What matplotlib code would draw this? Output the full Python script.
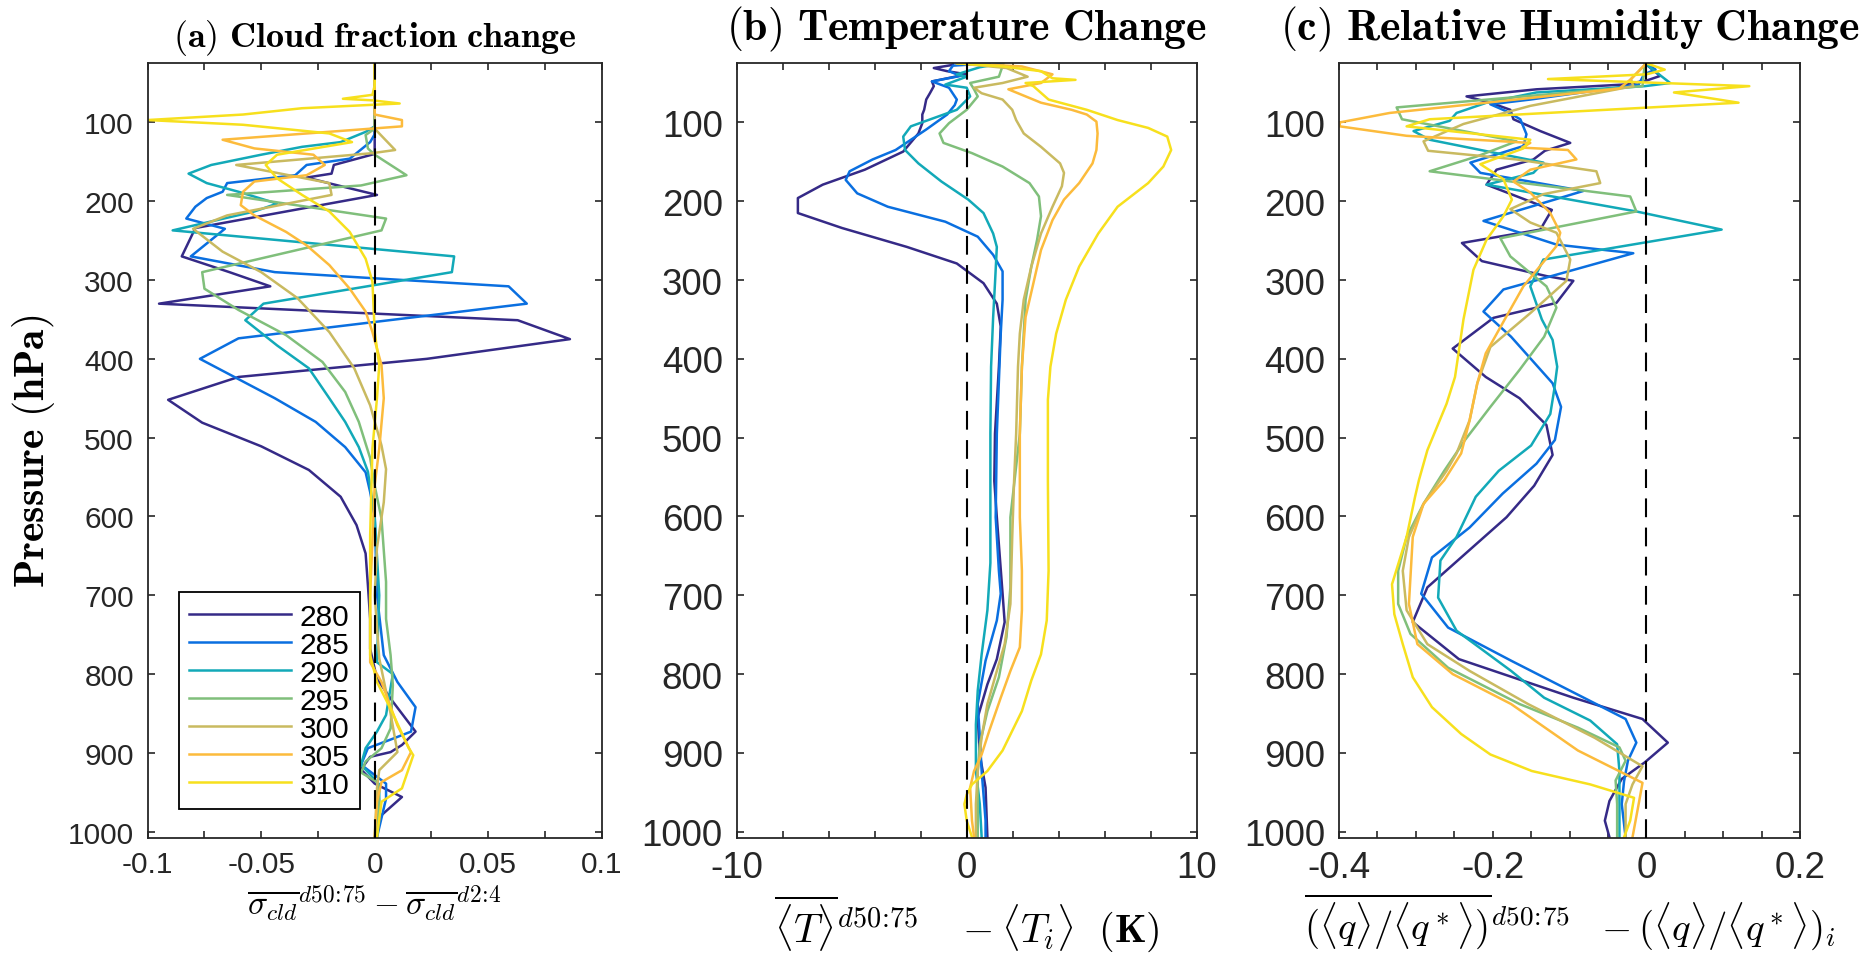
import matplotlib
matplotlib.use('Agg')
import matplotlib.pyplot as plt

plt.rcParams['font.family'] = ['Liberation Sans', 'DejaVu Sans']
plt.rcParams['mathtext.fontset'] = 'cm'
plt.rcParams['axes.unicode_minus'] = False

sst = ['280', '285', '290', '295', '300', '305', '310']
colors = ['#352a87', '#0a6fe0', '#12a9b8', '#80bf7b', '#c9ba60', '#fcbb3c', '#f7e01d']

# (a) cloud fraction change, pressure (hPa) / value pairs per SST
cld_p_280 = [25, 140, 154, 165, 170, 178, 192, 234, 270, 290, 308, 330, 351, 375, 400, 423, 452, 481, 511, 541, 575, 611, 647, 687, 730, 768, 806, 835, 873, 890, 899, 905, 921, 939, 956, 979, 1007]
cld_280 = [0.0, 0.0, -0.018, -0.019, -0.030, -0.019, 0.001, -0.079, -0.085, -0.064, -0.046, -0.095, 0.063, 0.086, 0.023, -0.060, -0.091, -0.076, -0.050, -0.029, -0.015, -0.008, -0.004, -0.003, -0.002, -0.002, 0.001, 0.008, 0.018, 0.012, 0.007, -0.002, -0.006, 0.0, 0.012, 0.003, 0.0]
cld_p_285 = [25, 115, 125, 146, 154, 167, 177, 188, 196, 207, 222, 235, 270, 290, 298, 308, 330, 374, 400, 450, 480, 512, 544, 569, 600, 700, 776, 810, 842, 873, 882, 894, 915, 939, 958, 1007]
cld_285 = [0.0, 0.0, -0.002, -0.011, -0.030, -0.035, -0.065, -0.067, -0.074, -0.079, -0.083, -0.066, -0.081, -0.044, 0.001, 0.059, 0.067, -0.060, -0.077, -0.044, -0.026, -0.013, -0.004, -0.002, 0.0, 0.001, 0.004, 0.010, 0.018, 0.016, 0.008, -0.003, -0.006, 0.005, 0.005, 0.001]
cld_p_290 = [25, 105, 112, 125, 131, 141, 154, 165, 177, 188, 203, 213, 237, 270, 290, 330, 351, 383, 412, 450, 480, 512, 543, 600, 700, 785, 800, 852, 873, 894, 915, 940, 962, 1007]
cld_290 = [0.0, 0.0, -0.004, -0.015, -0.032, -0.050, -0.072, -0.082, -0.074, -0.060, -0.043, -0.053, -0.089, 0.035, 0.034, -0.049, -0.057, -0.043, -0.029, -0.020, -0.013, -0.007, -0.003, 0.0, 0.002, 0.001, 0.008, 0.005, 0.001, -0.004, -0.006, 0.002, 0.002, 0.001]
cld_p_295 = [25, 108, 116, 133, 141, 167, 180, 192, 222, 237, 290, 311, 338, 370, 404, 442, 480, 526, 561, 603, 683, 730, 776, 814, 869, 894, 911, 925, 937, 962, 1007]
cld_295 = [0.0, 0.0, -0.004, -0.003, 0.0, 0.014, -0.006, -0.065, 0.005, 0.003, -0.076, -0.075, -0.060, -0.039, -0.023, -0.013, -0.007, -0.002, 0.0, 0.003, 0.005, 0.005, 0.007, 0.008, 0.007, 0.003, -0.004, -0.006, 0.001, 0.002, 0.001]
cld_p_300 = [25, 108, 129, 135, 139, 154, 177, 192, 218, 235, 264, 290, 323, 366, 412, 459, 510, 540, 582, 640, 700, 780, 850, 899, 922, 945, 1007]
cld_300 = [0.0, 0.0, 0.007, 0.009, -0.001, -0.061, -0.020, -0.019, -0.065, -0.080, -0.067, -0.050, -0.034, -0.020, -0.009, -0.002, 0.003, 0.005, 0.004, 0.001, 0.0, 0.002, 0.007, 0.010, 0.002, 0.001, 0.0]
cld_p_305 = [25, 90, 97, 105, 122, 133, 141, 154, 167, 175, 188, 205, 218, 239, 256, 281, 311, 340, 366, 408, 450, 514, 560, 700, 785, 810, 865, 899, 922, 937, 962, 1007]
cld_305 = [0.0, 0.0, 0.012, 0.012, -0.067, -0.053, -0.027, -0.022, -0.030, -0.053, -0.058, -0.059, -0.053, -0.039, -0.030, -0.020, -0.011, -0.004, -0.001, 0.003, 0.004, 0.002, 0.0, -0.002, -0.002, 0.003, 0.010, 0.016, 0.012, 0.003, 0.001, 0.0]
cld_p_310 = [25, 53, 65, 70, 72, 76, 82, 90, 97, 103, 114, 125, 141, 154, 171, 192, 213, 239, 273, 302, 366, 408, 450, 514, 624, 776, 810, 844, 894, 903, 945, 962, 1007]
cld_310 = [0.0, 0.0, -0.001, -0.014, -0.001, 0.011, -0.032, -0.058, -0.100, -0.058, -0.020, -0.010, -0.043, -0.048, -0.043, -0.032, -0.020, -0.011, -0.004, -0.001, 0.0, 0.002, 0.001, -0.001, -0.002, -0.002, 0.001, 0.007, 0.015, 0.017, 0.012, 0.003, 0.001]

# (b) temperature change (K)
tmp_p_280 = [25, 27, 31, 35, 39, 48, 54, 63, 71, 84, 90, 101, 114, 137, 160, 179, 196, 215, 234, 258, 279, 304, 330, 359, 410, 495, 555, 601, 698, 734, 781, 813, 855, 902, 944, 1007]
tmp_280 = [-0.6, -0.6, -1.43, -0.85, 0.0, -1.51, -1.43, -1.6, -1.76, -1.85, -1.93, -1.93, -2.1, -2.76, -4.43, -6.26, -7.34, -7.34, -5.42, -2.6, -0.43, 0.73, 1.31, 1.48, 1.40, 1.23, 1.20, 1.31, 1.56, 1.65, 1.31, 0.90, 0.48, 0.57, 0.82, 0.90]
tmp_p_285 = [25, 28, 35, 41, 48, 56, 71, 78, 90, 109, 135, 147, 162, 173, 190, 207, 226, 245, 268, 289, 325, 368, 495, 601, 669, 698, 732, 783, 838, 880, 923, 986, 1007]
tmp_285 = [1.0, -0.6, -0.77, -0.27, -1.51, -0.77, -0.43, -0.52, -0.85, -1.76, -3.09, -4.09, -5.09, -5.26, -4.76, -3.43, -0.93, 0.48, 1.15, 1.56, 1.56, 1.48, 1.31, 1.26, 1.40, 1.48, 1.31, 0.82, 0.48, 0.57, 0.65, 0.82, 0.82]
tmp_p_290 = [25, 30, 39, 42, 52, 56, 67, 84, 105, 118, 135, 152, 175, 198, 215, 241, 258, 304, 347, 410, 495, 601, 659, 719, 775, 821, 864, 923, 965, 1007]
tmp_290 = [1.56, 0.57, -0.43, 0.0, -0.93, 0.0, 0.15, -0.43, -2.43, -2.76, -2.68, -2.1, -1.1, 0.07, 0.73, 1.15, 1.31, 1.23, 1.15, 1.06, 1.03, 1.03, 1.03, 0.90, 0.65, 0.48, 0.40, 0.40, 0.57, 0.65]
tmp_p_295 = [25, 42, 50, 58, 67, 84, 101, 114, 126, 139, 156, 177, 194, 219, 249, 283, 325, 410, 495, 601, 690, 753, 804, 847, 889, 923, 965, 1007]
tmp_295 = [1.6, 1.40, 0.15, 0.32, 0.48, 0.0, -0.77, -1.18, -1.01, 0.23, 1.56, 2.73, 3.14, 3.23, 3.06, 2.81, 2.56, 2.40, 2.31, 1.90, 1.90, 1.73, 1.40, 0.90, 0.57, 0.48, 0.48, 0.48]
tmp_p_300 = [25, 31, 42, 50, 56, 63, 71, 84, 97, 114, 131, 152, 164, 181, 207, 241, 283, 325, 368, 410, 495, 555, 626, 711, 762, 796, 838, 880, 923, 965, 1007]
tmp_300 = [-0.4, 1.73, 2.65, 1.56, 0.32, 0.65, 1.56, 1.98, 2.15, 2.48, 3.23, 4.06, 4.23, 4.14, 3.73, 3.23, 2.81, 2.48, 2.31, 2.23, 2.15, 2.06, 1.98, 1.90, 1.65, 1.31, 0.90, 0.65, 0.48, 0.40, 0.40]
tmp_p_305 = [25, 29, 39, 50, 58, 63, 75, 84, 90, 99, 114, 135, 152, 177, 198, 224, 262, 304, 347, 410, 495, 601, 669, 719, 766, 796, 830, 872, 902, 923, 944, 986, 1007]
tmp_305 = [-0.1, 2.40, 3.73, 3.23, 1.81, 2.23, 3.23, 4.56, 5.22, 5.64, 5.69, 5.64, 5.47, 4.89, 4.23, 3.73, 3.23, 2.90, 2.56, 2.40, 2.31, 2.31, 2.40, 2.40, 2.31, 1.90, 1.48, 0.98, 0.65, 0.32, 0.15, 0.23, 0.32]
tmp_p_310 = [25, 29, 35, 44, 46, 50, 54, 71, 84, 97, 107, 118, 135, 156, 177, 207, 241, 283, 325, 368, 410, 452, 555, 669, 732, 775, 808, 847, 897, 923, 940, 953, 965, 986, 1007]
tmp_310 = [-0.43, 1.56, 3.23, 3.73, 4.73, 2.56, 2.9, 3.56, 5.22, 6.56, 7.89, 8.72, 8.89, 8.55, 7.89, 6.56, 5.72, 4.89, 4.31, 3.89, 3.64, 3.53, 3.53, 3.56, 3.48, 3.23, 2.81, 2.40, 1.56, 0.90, 0.23, 0.0, -0.1, 0.0, 0.23]

# (c) relative humidity change
rh_p_280 = [25, 41, 47, 52, 58, 67, 75, 84, 96, 111, 126, 136, 147, 160, 179, 211, 236, 253, 276, 295, 301, 329, 348, 387, 423, 450, 484, 522, 561, 601, 690, 734, 781, 830, 857, 887, 912, 933, 961, 986, 1007]
rh_280 = [-0.002, 0.018, 0.0, -0.030, -0.143, -0.234, -0.203, -0.177, -0.173, -0.138, -0.099, -0.132, -0.147, -0.195, -0.208, -0.123, -0.138, -0.240, -0.214, -0.130, -0.095, -0.117, -0.199, -0.252, -0.209, -0.165, -0.130, -0.122, -0.146, -0.182, -0.285, -0.304, -0.244, -0.095, -0.005, 0.028, -0.002, -0.032, -0.048, -0.054, -0.048]
rh_p_285 = [25, 33, 39, 52, 71, 77, 86, 96, 115, 130, 151, 164, 187, 225, 255, 266, 312, 340, 372, 431, 461, 503, 533, 571, 614, 652, 698, 741, 783, 857, 887, 910, 936, 965, 1007]
rh_285 = [0.0, 0.012, -0.003, -0.010, -0.151, -0.203, -0.182, -0.164, -0.156, -0.160, -0.229, -0.216, -0.082, -0.212, -0.117, -0.017, -0.186, -0.212, -0.176, -0.122, -0.111, -0.119, -0.143, -0.187, -0.230, -0.279, -0.293, -0.258, -0.176, -0.027, -0.013, -0.024, -0.029, -0.032, -0.027]
rh_p_290 = [25, 50, 54, 62, 75, 88, 98, 111, 122, 151, 164, 179, 213, 236, 274, 308, 350, 376, 410, 440, 470, 510, 542, 575, 626, 656, 703, 745, 796, 830, 859, 889, 923, 965, 1007]
rh_290 = [-0.002, 0.031, -0.002, -0.143, -0.208, -0.247, -0.256, -0.303, -0.282, -0.134, -0.147, -0.208, -0.013, 0.098, -0.134, -0.151, -0.136, -0.122, -0.116, -0.120, -0.125, -0.150, -0.192, -0.222, -0.247, -0.268, -0.271, -0.247, -0.176, -0.133, -0.073, -0.038, -0.035, -0.035, -0.035]
rh_p_295 = [25, 54, 81, 96, 124, 143, 162, 194, 213, 247, 270, 308, 335, 372, 414, 461, 503, 542, 584, 626, 669, 711, 749, 792, 838, 868, 893, 910, 935, 965, 1007]
rh_295 = [-0.002, -0.005, -0.325, -0.318, -0.169, -0.220, -0.282, -0.021, -0.013, -0.190, -0.177, -0.130, -0.117, -0.133, -0.165, -0.203, -0.236, -0.263, -0.290, -0.312, -0.323, -0.323, -0.307, -0.258, -0.165, -0.089, -0.035, -0.027, -0.040, -0.038, -0.038]
rh_p_300 = [25, 45, 54, 79, 102, 124, 136, 147, 162, 177, 191, 210, 227, 240, 274, 301, 342, 385, 431, 478, 520, 542, 584, 626, 669, 719, 762, 796, 838, 881, 917, 940, 965, 1007]
rh_300 = [0.0, -0.020, -0.017, -0.151, -0.238, -0.290, -0.284, -0.169, -0.065, -0.060, -0.134, -0.177, -0.151, -0.117, -0.099, -0.104, -0.151, -0.203, -0.220, -0.230, -0.247, -0.260, -0.290, -0.309, -0.317, -0.312, -0.285, -0.230, -0.154, -0.067, -0.005, -0.018, -0.027, -0.027]
rh_p_305 = [25, 45, 57, 88, 100, 105, 117, 126, 132, 135, 147, 160, 175, 189, 215, 240, 257, 282, 308, 346, 393, 431, 478, 520, 554, 584, 626, 711, 762, 800, 838, 897, 938, 965, 1007]
rh_305 = [0.0, -0.020, -0.035, -0.334, -0.399, -0.399, -0.312, -0.151, -0.162, -0.102, -0.091, -0.151, -0.173, -0.151, -0.125, -0.112, -0.117, -0.138, -0.160, -0.182, -0.209, -0.220, -0.230, -0.241, -0.263, -0.290, -0.304, -0.309, -0.298, -0.252, -0.176, -0.089, -0.005, -0.010, -0.018]
rh_p_310 = [25, 33, 39, 45, 50, 54, 62, 75, 96, 105, 122, 133, 153, 172, 198, 219, 249, 287, 350, 423, 457, 516, 554, 575, 626, 686, 724, 762, 804, 842, 876, 902, 923, 940, 957, 986, 1007]
rh_310 = [0.0, 0.024, 0.0, -0.128, 0.020, 0.134, 0.036, 0.120, -0.282, -0.312, -0.151, -0.160, -0.216, -0.186, -0.175, -0.186, -0.208, -0.225, -0.238, -0.249, -0.260, -0.285, -0.296, -0.301, -0.312, -0.331, -0.328, -0.317, -0.304, -0.279, -0.241, -0.203, -0.149, -0.073, -0.016, -0.021, -0.029]

cld_p = [cld_p_280, cld_p_285, cld_p_290, cld_p_295, cld_p_300, cld_p_305, cld_p_310]
cld = [cld_280, cld_285, cld_290, cld_295, cld_300, cld_305, cld_310]
tmp_p = [tmp_p_280, tmp_p_285, tmp_p_290, tmp_p_295, tmp_p_300, tmp_p_305, tmp_p_310]
tmp = [tmp_280, tmp_285, tmp_290, tmp_295, tmp_300, tmp_305, tmp_310]
rh_p = [rh_p_280, rh_p_285, rh_p_290, rh_p_295, rh_p_300, rh_p_305, rh_p_310]
rh = [rh_280, rh_285, rh_290, rh_295, rh_300, rh_305, rh_310]

W, H = 1873, 954
fig = plt.figure(figsize=(W / 100, H / 100), dpi=100)
fig.patch.set_facecolor('white')

top_px, bot_px = 64.3, 839
ax_h = (bot_px - top_px) / H
ax_b = 1 - bot_px / H
ax_a = fig.add_axes([147.7 / W, ax_b, 454 / W, ax_h])
ax_t = fig.add_axes([736.7 / W, ax_b, 460 / W, ax_h])
ax_r = fig.add_axes([1339 / W, ax_b, 461 / W, ax_h])

grey = '#262626'


def setup(ax, xlim, xticks, xlabels, fs):
    ax.set_ylim(1008, 25)
    ax.set_xlim(xlim)
    ax.set_yticks(range(100, 1001, 100))
    ax.set_xticks(xticks)
    ax.set_xticklabels(xlabels)
    ax.tick_params(direction='in', top=True, right=True, length=5, width=1.2,
                   colors=grey, labelsize=fs)
    ax.tick_params(axis='y', pad=10)
    ax.tick_params(axis='x', pad=9)
    for s in ax.spines.values():
        s.set_linewidth(1.3)
        s.set_color(grey)
    ax.axvline(0, color='k', lw=1.5, dashes=(9, 5), zorder=3)


handles = []
for i in range(7):
    h, = ax_a.plot(cld[i], cld_p[i], color=colors[i], lw=1.8, label=sst[i])
    handles.append(h)
    ax_t.plot(tmp[i], tmp_p[i], color=colors[i], lw=1.8)
    ax_r.plot(rh[i], rh_p[i], color=colors[i], lw=1.8)

xt_a = [-0.1 + 0.025 * k for k in range(9)]
setup(ax_a, (-0.1, 0.1), xt_a,
      ['-0.1', '', '-0.05', '', '0', '', '0.05', '', '0.1'], 21.5)
xt_t = list(range(-10, 11, 2))
setup(ax_t, (-10, 10), xt_t,
      ['-10', '', '', '', '', '0', '', '', '', '', '10'], 26.5)
xt_r = [-0.4 + 0.05 * k for k in range(13)]
setup(ax_r, (-0.4, 0.2), xt_r,
      ['-0.4', '', '', '', '-0.2', '', '', '', '0', '', '', '', '0.2'], 26.5)

span = bot_px - top_px
# titles
ax_a.text(0.5, (bot_px - 47) / span, r'$\mathbf{(a)\ Cloud\ fraction\ change}$',
          transform=ax_a.transAxes, ha='center', va='baseline', fontsize=26)
ax_t.text(0.5, (bot_px - 40) / span, r'$\mathbf{(b)\ Temperature\ Change}$',
          transform=ax_t.transAxes, ha='center', va='baseline', fontsize=31.5)
ax_r.text(0.5, (bot_px - 40) / span, r'$\mathbf{(c)\ Relative\ Humidity\ Change}$',
          transform=ax_r.transAxes, ha='center', va='baseline', fontsize=31.5)

# axis labels
fig.text(34 / W, 1 - 451.5 / H, r'$\mathbf{Pressure\ (hPa)}$', rotation=90,
         ha='center', va='center', fontsize=30)
ax_a.text(0.5, (bot_px - 915) / span,
          r'$\overline{\sigma_{cld}}^{d50\!:\!75} - \overline{\sigma_{cld}}^{d2\!:\!4}$',
          transform=ax_a.transAxes, ha='center', va='baseline', fontsize=24)
ax_t.text(0.5, (bot_px - 943) / span,
          r'$\overline{\langle T\rangle}^{d50\!:\!75}\ \ \ - \langle T_i\rangle\ \ \mathbf{(K)}$',
          transform=ax_t.transAxes, ha='center', va='baseline', fontsize=29)
ax_r.text(0.5, (bot_px - 940) / span,
          r'$\overline{(\langle q\rangle/\langle q^*\rangle)}^{d50\!:\!75}\ \ - (\langle q\rangle/\langle q^*\rangle)_i$',
          transform=ax_r.transAxes, ha='center', va='baseline', fontsize=28)

leg = ax_a.legend(handles=handles, loc='lower left', bbox_to_anchor=(0.069, 0.037),
                  borderaxespad=0, fancybox=False, edgecolor='k', framealpha=1,
                  fontsize=21.5, handlelength=3.4, handletextpad=0.3,
                  labelspacing=0.0, borderpad=0.35)
leg.get_frame().set_linewidth(1.3)
leg.set_zorder(5)

fig.savefig('out.png', dpi=100, facecolor='white')
